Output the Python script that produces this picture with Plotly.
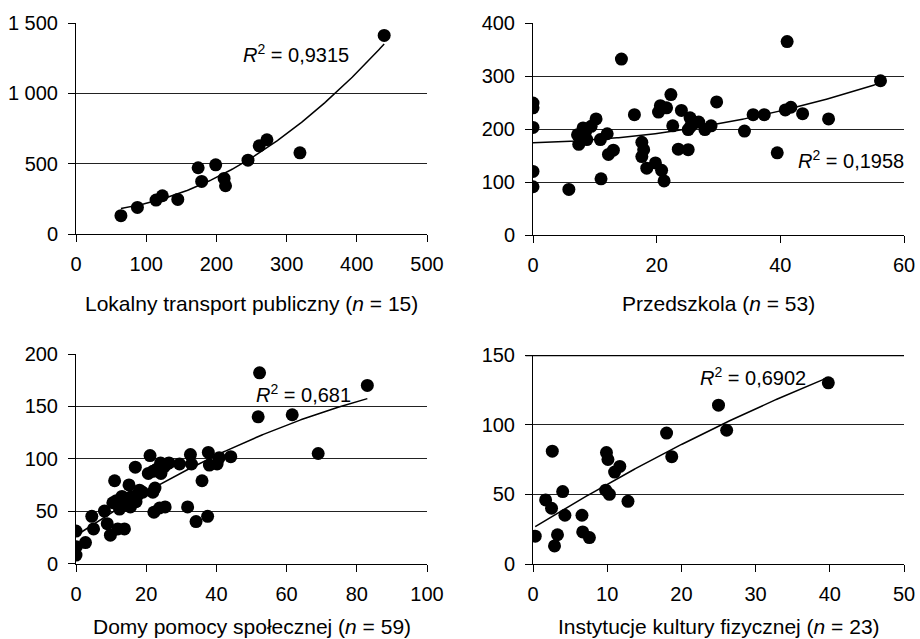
import numpy as np
import plotly.graph_objects as go

# ---------------- data ----------------
transport_x = [64, 87.5, 114, 123, 145, 174, 179, 199, 211, 213, 245, 261, 272, 319, 439]
transport_y = [130, 189, 241, 272, 246, 471, 374, 492, 395, 343, 525, 627, 670, 577, 1412]

przedszkola_x = [0, 0, 0, 0, 0, 5.8, 14.3, 41.1, 56.2, 7.2, 7.4, 8.1, 8.7, 9.4, 10.2, 10.9,
                 11.0, 12.0, 12.2, 13.0, 16.4, 17.6, 17.9, 17.6, 18.4, 19.8, 20.8, 21.2,
                 20.3, 20.6, 21.6, 22.3, 22.6, 23.5, 24.0, 25.1, 25.4, 25.1, 26.0, 26.8,
                 27.8, 28.8, 29.7, 34.2, 35.6, 37.4, 39.5, 40.8, 41.7, 43.6, 47.8, 8.5, 25.5]
przedszkola_y = [249, 240, 203, 120, 91, 86, 332, 365, 291, 189, 171, 202, 180, 205, 219, 180,
                 106, 191, 152, 160, 227, 175, 161, 148, 126, 136, 122, 102,
                 232, 244, 240, 265, 206, 162, 235, 161, 221, 199, 211, 213,
                 199, 206, 251, 196, 227, 227, 155, 236, 241, 229, 219, 195, 205]

dps_x = [0, 0.1, 0, 2.7, 4.5, 5.0, 8.1, 8.9, 9.8, 11.0, 10.5, 11.5, 11.9, 13.8, 12.4, 13.1,
         14.3, 15.1, 15.5, 15.9, 16.9, 17.1, 18.1, 21.1, 20.6, 21.9, 22.5, 21.9, 22.2, 24.1,
         24.2, 23.8, 25.4, 25.9, 29.5, 32.6, 32.9, 31.8, 34.2, 35.9, 37.5, 37.7, 38.0, 40.2,
         40.8, 44.1, 52.3, 51.9, 61.6, 69.0, 83.0, 12.5, 14.5, 16.0, 17.5, 19.0, 23.0, 26.5, 25.0]
dps_y = [31, 16, 8, 20, 45, 33, 50, 38, 27, 79, 58, 60, 33, 33, 52, 64,
         56, 75, 54, 64, 92, 59, 70, 103, 86, 88, 72, 68, 49, 96,
         86, 53, 54, 95, 95, 104, 95, 54, 40, 79, 45, 106, 94, 95,
         101, 102, 182, 140, 142, 105, 170, 57, 62, 60, 65, 68, 90, 96, 92]

ikf_x = [0.3, 1.7, 2.5, 2.6, 2.9, 3.3, 4.0, 4.3, 6.6, 6.7, 7.6, 9.9, 10.1, 9.8, 10.3, 11.0,
         11.7, 12.8, 18.0, 18.7, 25.0, 26.1, 39.8]
ikf_y = [20, 46, 40, 81, 13, 21, 52, 35, 35, 23, 19, 80, 75, 53, 50, 66,
         70, 45, 94, 77, 114, 96, 130]

r2_labels = ["0,9315", "0,1958", "0,681", "0,6902"]
x_titles = ["Lokalny transport publiczny (<i>n</i> = 15)",
            "Przedszkola (<i>n</i> = 53)",
            "Domy pomocy społecznej (<i>n</i> = 59)",
            "Instytucje kultury fizycznej (<i>n</i> = 23)"]

x_ticks = [[0, 100, 200, 300, 400, 500], [0, 20, 40, 60], [0, 20, 40, 60, 80, 100], [0, 10, 20, 30, 40, 50]]
y_ticks = [[0, 500, 1000, 1500], [0, 100, 200, 300, 400], [0, 50, 100, 150, 200], [0, 50, 100, 150]]
y_ticktext = [["0", "500", "1 000", "1 500"], ["0", "100", "200", "300", "400"],
              ["0", "50", "100", "150", "200"], ["0", "50", "100", "150"]]

# ---------------- figure ----------------
FONT = "Liberation Sans, Arial, sans-serif"
W, H = 920, 639
xdom = [[76 / W, 427 / W], [533 / W, 904 / W], [76 / W, 427 / W], [533 / W, 904 / W]]
ydom = [[1 - 234 / H, 1 - 23 / H], [1 - 235 / H, 1 - 23 / H],
        [1 - 563.5 / H, 1 - 354 / H], [1 - 564 / H, 1 - 355 / H]]
title_y = [303, 303, 626, 626]
r2_pos = [(313, 1282), (51.4, 143), (64.8, 162), (29.6, 134.7)]

datasets = [(transport_x, transport_y), (przedszkola_x, przedszkola_y),
            (dps_x, dps_y), (ikf_x, ikf_y)]

fig = go.Figure()
layout = dict(width=W, height=H, margin=dict(l=0, r=0, t=0, b=0, autoexpand=False),
              paper_bgcolor="white", plot_bgcolor="white", showlegend=False,
              font=dict(family=FONT, size=20, color="black"))
annotations = []
shapes = []
for i, (xs, ys) in enumerate(datasets):
    n = "" if i == 0 else str(i + 1)
    xa, ya = "x" + n, "y" + n
    fig.add_trace(go.Scatter(x=xs, y=ys, mode="markers", xaxis=xa, yaxis=ya,
                             marker=dict(color="black", size=13, line=dict(width=0))))
    coef = np.polyfit(np.array(xs, float), np.array(ys, float), 2)
    xl = np.linspace(min(xs), max(xs), 200)
    fig.add_trace(go.Scatter(x=xl, y=np.polyval(coef, xl), mode="lines", xaxis=xa, yaxis=ya,
                             line=dict(color="black", width=1.5), hoverinfo="skip"))
    layout["xaxis" + n] = dict(domain=xdom[i], anchor=ya, range=[0, x_ticks[i][-1]],
                               tickvals=x_ticks[i], ticks="outside", ticklen=7, tickcolor="black",
                               showline=True, linecolor="black", linewidth=1, showgrid=False,
                               zeroline=False, ticklabelstandoff=5, fixedrange=True,
                               automargin=False, tickfont=dict(size=20))
    layout["yaxis" + n] = dict(domain=ydom[i], anchor=xa, range=[0, y_ticks[i][-1]],
                               tickvals=y_ticks[i], ticktext=y_ticktext[i], ticks="outside",
                               ticklen=7, tickcolor="black", showline=True, linecolor="black",
                               linewidth=1, showgrid=True, gridcolor="#222", gridwidth=1,
                               zeroline=False, ticklabelstandoff=6, fixedrange=True,
                               automargin=False, tickfont=dict(size=20))
    annotations.append(dict(x=r2_pos[i][0], y=r2_pos[i][1], xref=xa, yref=ya,
                            text="<i>R</i><sup>2</sup> = " + r2_labels[i], showarrow=False,
                            font=dict(size=20), xanchor="center", yanchor="middle"))
    annotations.append(dict(x=(xdom[i][0] + xdom[i][1]) / 2, y=1 - title_y[i] / H,
                            xref="paper", yref="paper", text=x_titles[i], showarrow=False,
                            font=dict(size=21), xanchor="center", yanchor="middle"))

# bold top line in the last panel
shapes.append(dict(type="line", xref="x4 domain", yref="y4", x0=-0.02, x1=1, y0=150, y1=150,
                   line=dict(color="black", width=2.5)))
layout["annotations"] = annotations
layout["shapes"] = shapes
fig.update_layout(**layout)
fig.write_html("out.html", config={"displayModeBar": False},
               post_script="document.body.style.margin='0';document.body.style.overflow='hidden';")
